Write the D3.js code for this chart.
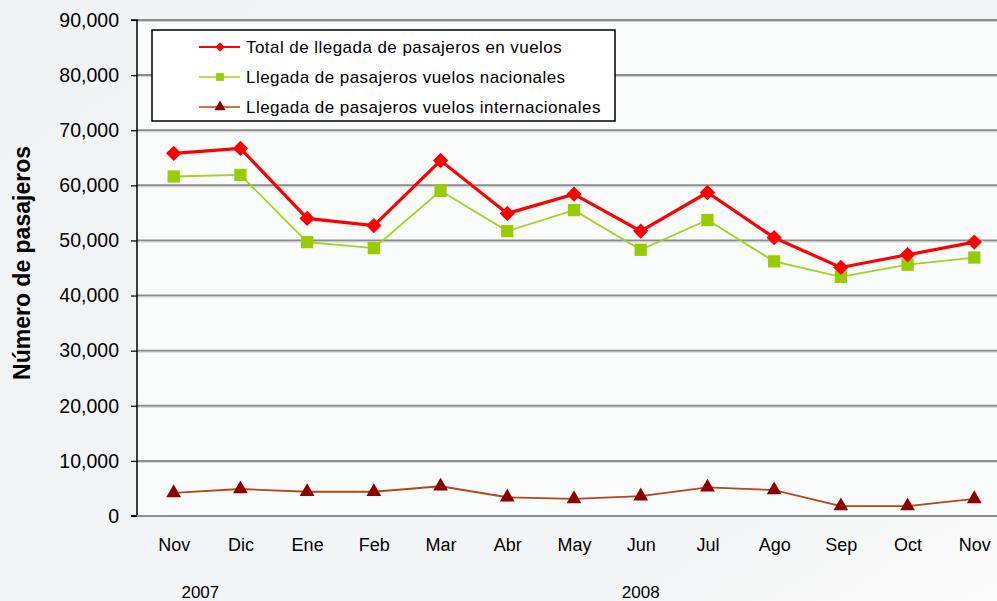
<!DOCTYPE html>
<html><head><meta charset="utf-8">
<script src="https://cdn.jsdelivr.net/npm/d3@7"></script>
<style>body{margin:0;background:#f2f3f4;}svg{display:block;}</style>
</head><body>
<script>
const months = ["Nov","Dic","Ene","Feb","Mar","Abr","May","Jun","Jul","Ago","Sep","Oct","Nov"];
const years = [{label:"2007", idx:0.4},{label:"2008", idx:7}];
const total = [65800,66700,54000,52700,64500,54900,58400,51700,58700,50500,45100,47400,49700];
const nacional = [61600,61900,49700,48600,59000,51700,55500,48300,53700,46200,43400,45600,46900];
const internacional = [4200,4900,4400,4400,5400,3400,3100,3600,5200,4700,1800,1800,3100];
const yTicks = [0,10000,20000,30000,40000,50000,60000,70000,80000,90000];
const legendLabels = ["Total de llegada de pasajeros en vuelos","Llegada de pasajeros vuelos nacionales","Llegada de pasajeros vuelos internacionales"];

const W=997,H=601;
const m={left:137, top:20, right:-14, bottom:85};
const svg=d3.select("body").append("svg").attr("width",W).attr("height",H);
const defs=svg.append("defs");
const bg=defs.append("linearGradient").attr("id","bg").attr("x1",0).attr("y1",0).attr("x2",1).attr("y2",1);
bg.append("stop").attr("offset","0%").attr("stop-color","#f1f2f3");
bg.append("stop").attr("offset","80%").attr("stop-color","#f4f5f6");
bg.append("stop").attr("offset","100%").attr("stop-color","#fbfbfb");
svg.append("rect").attr("width",W).attr("height",H).attr("fill","url(#bg)");

const iw=W-m.left-m.right, ih=H-m.top-m.bottom;
const x=d3.scalePoint().domain(d3.range(months.length)).range([0,iw]).padding(0.55);
const y=d3.scaleLinear().domain([0,90000]).range([ih,0]);
const g=svg.append("g").attr("transform",`translate(${m.left},${m.top})`);
g.append("rect").attr("width",iw).attr("height",ih).attr("fill","#fafbfb");

// gridlines
g.selectAll(".grid").data(yTicks.filter(d=>d>0)).join("line")
 .attr("x1",0).attr("x2",iw).attr("y1",d=>y(d)).attr("y2",d=>y(d))
 .attr("stroke","#8c8c8c").attr("stroke-width",2);
g.selectAll(".grid2").data(yTicks.filter(d=>d>0)).join("line")
 .attr("x1",0).attr("x2",iw).attr("y1",d=>y(d)+1.5).attr("y2",d=>y(d)+1.5)
 .attr("stroke","#d0d0d0").attr("stroke-width",1);

// y axis
const ya=g.append("g").call(d3.axisLeft(y).tickValues(yTicks).tickSize(6).tickPadding(12).tickFormat(d3.format(",")));
ya.select(".domain").attr("stroke","#000").attr("stroke-width",1.5).attr("d",`M-6,${ih}H0V0H-6`);
ya.selectAll(".tick line").attr("stroke","#000").attr("stroke-width",1.2);
ya.selectAll("text").attr("font-family","Liberation Sans, Arial, sans-serif").attr("font-size",19.5).attr("fill","#000");

// x axis line
g.append("line").attr("x1",0).attr("x2",iw).attr("y1",ih).attr("y2",ih).attr("stroke","#8c8c8c").attr("stroke-width",2);
g.append("line").attr("x1",-6).attr("x2",0).attr("y1",ih).attr("y2",ih).attr("stroke","#000").attr("stroke-width",1.5);

const xa=g.append("g").attr("transform",`translate(0,${ih})`).call(d3.axisBottom(x).tickSize(0).tickPadding(22).tickFormat(i=>months[i]));
xa.select(".domain").remove();
xa.selectAll("text").attr("font-family","Liberation Sans, Arial, sans-serif").attr("font-size",18).attr("fill","#000");

g.selectAll(".yr").data(years).join("text")
 .attr("x",d=>x(0)+(x(1)-x(0))*d.idx).attr("y",ih+82).attr("text-anchor","middle")
 .attr("font-family","Liberation Sans, Arial, sans-serif").attr("font-size",17).text(d=>d.label);

// y title
svg.append("text").attr("transform","translate(30,263) rotate(-90)").attr("text-anchor","middle")
 .attr("font-family","Liberation Sans, Arial, sans-serif").attr("font-size",23).attr("font-weight","bold").text("Número de pasajeros");

const line=d3.line().x((d,i)=>x(i)).y(d=>y(d));
const sym={diamond:d3.symbol().type(d3.symbolDiamond2).size(150),square:d3.symbol().type(d3.symbolSquare).size(150),tri:d3.symbol().type(d3.symbolTriangle).size(95)};
const series=[
 {data:nacional,line:"#a3d21c",lw:1.8,mk:"#99cc00",sym:sym.square},
 {data:internacional,line:"#b5461a",lw:1.8,mk:"#8b0000",sym:sym.tri},
 {data:total,line:"#ff0000",lw:3.2,mk:"#ff0000",sym:sym.diamond}
];
series.forEach(s=>{
 g.append("path").datum(s.data).attr("d",line).attr("fill","none").attr("stroke",s.line).attr("stroke-width",s.lw);
 g.selectAll(null).data(s.data).join("path").attr("d",s.sym).attr("transform",(d,i)=>`translate(${x(i)},${y(d)})`).attr("fill",s.mk);
});

// legend
const lg=svg.append("g").attr("transform","translate(152,30)");
lg.append("rect").attr("width",463).attr("height",91).attr("fill","#fff").attr("stroke","#000").attr("stroke-width",1.5);
const leg=[series[2],series[0],series[1]];
const lsym=[d3.symbol().type(d3.symbolDiamond2).size(55),d3.symbol().type(d3.symbolSquare).size(60),d3.symbol().type(d3.symbolTriangle).size(55)];
leg.forEach((s,i)=>{
 const ly=17+i*30;
 lg.append("line").attr("x1",47).attr("x2",88).attr("y1",ly).attr("y2",ly).attr("stroke",s.line).attr("stroke-width",i===0?2:1.5);
 lg.append("path").attr("d",lsym[i]).attr("transform",`translate(68,${ly})`).attr("fill",s.mk);
 lg.append("text").attr("x",94).attr("y",ly+6).attr("font-family","Liberation Sans, Arial, sans-serif").attr("font-size",17).attr("letter-spacing",0.45).attr("fill","#000").text(legendLabels[i]);
});
</script>
</body></html>
